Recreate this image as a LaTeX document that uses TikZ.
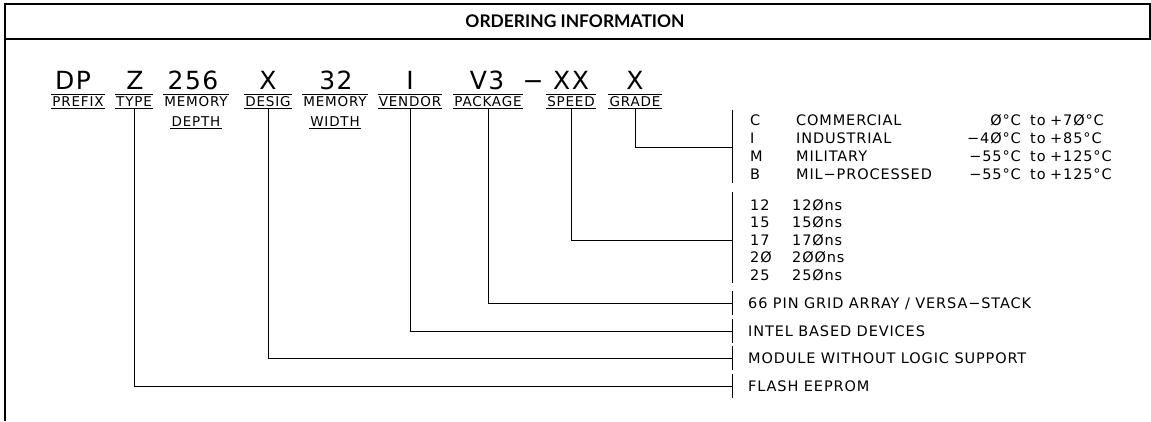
\documentclass[tikz,border=0pt]{standalone}
\usepackage{fontspec}
\newfontfamily\cadfont[LetterSpace=6]{DejaVu Sans}
\newfontfamily\titlefont{Lato}
\usetikzlibrary{positioning}

\tikzset{
  frameline/.style={line width=2pt},
  leader/.style={line width=0.9pt},
  bigchar/.style={anchor=base, inner sep=0pt, text depth=0pt, font=\cadfont\fontsize{25}{27}\selectfont},
  fieldlabel/.style={anchor=base, inner xsep=1pt, inner ysep=2.5pt, text height=8.5pt, text depth=0pt,
    font=\cadfont\fontsize{13.5}{15}\selectfont},
  optiontext/.style={anchor=base west, inner sep=0pt, text depth=0pt, font=\cadfont\fontsize{14.5}{16}\selectfont},
}

\begin{document}
\begin{tikzpicture}[x=1pt,y=-1pt]
\useasboundingbox (0,0) rectangle (1151,421);

% Frame and title bar
\draw[frameline] (5,421) -- (5,4) -- (1151,4);
\draw[frameline] (5,39) -- (1151,39);
\draw[frameline] (1150,4) -- (1150,39);
\node[font=\titlefont\bfseries\fontsize{17.4}{20}\selectfont] (title) at (575,21.5)
  {ORDERING INFORMATION};

% Part number
\node[bigchar] (dp) at (73,89) {DP};
\node[bigchar] (z) at (135,89) {Z};
\node[bigchar] (depth) at (193,89) {256};
\node[bigchar] (desig) at (268,89) {X};
\node[bigchar] (width) at (336,89) {32};
\node[bigchar] (vendor) at (410,89) {I};
\node[bigchar] (package) at (487,89) {V3};
\node[bigchar] (dash) at (533,89) {−};
\node[bigchar] (speed) at (571,89) {XX};
\node[bigchar] (grade) at (635,89) {X};

% Field names
\node[fieldlabel] (prefixlbl) at (78,106) {PREFIX};
\node[fieldlabel] (typelbl) at (134,106) {TYPE};
\node[fieldlabel] (depthlbl) at (196,106) {MEMORY};
\node[fieldlabel] (depthlbl2) at (196,126) {DEPTH};
\node[fieldlabel] (desiglbl) at (268,106) {DESIG};
\node[fieldlabel] (widthlbl) at (335,106) {MEMORY};
\node[fieldlabel] (widthlbl2) at (335,126) {WIDTH};
\node[fieldlabel] (vendorlbl) at (410,106) {VENDOR};
\node[fieldlabel] (packagelbl) at (488,106) {PACKAGE};
\node[fieldlabel] (speedlbl) at (571,106) {SPEED};
\node[fieldlabel] (gradelbl) at (635,106) {GRADE};

% Over- and underlines
\foreach \lbl in {prefixlbl,typelbl,depthlbl,desiglbl,widthlbl,vendorlbl,packagelbl,speedlbl,gradelbl}
  \draw[leader] (\lbl.north west) -- (\lbl.north east);
\foreach \lbl in {prefixlbl,typelbl,depthlbl2,desiglbl,widthlbl2,vendorlbl,packagelbl,speedlbl,gradelbl}
  \draw[leader] (\lbl.south west) -- (\lbl.south east);

% Grade options
\draw[leader] (732,110) -- (732,183);
\coordinate (gradetick) at (732,147);
\node[optiontext] (gc) at (750,125) {C};
\node[optiontext] (gcname) at (796,125) {COMMERCIAL};
\node[optiontext, anchor=base east] (gclow) at (1021,125) {Ø°C};
\node[optiontext] (gcto) at (1030,125) {to};
\node[optiontext] (gchigh) at (1050,125) {+7Ø°C};
\node[optiontext] (gi) at (750,143) {I};
\node[optiontext] (giname) at (796,143) {INDUSTRIAL};
\node[optiontext, anchor=base east] (gilow) at (1021,143) {−4Ø°C};
\node[optiontext] (gito) at (1030,143) {to};
\node[optiontext] (gihigh) at (1050,143) {+85°C};
\node[optiontext] (gm) at (750,161) {M};
\node[optiontext] (gmname) at (796,161) {MILITARY};
\node[optiontext, anchor=base east] (gmlow) at (1021,161) {−55°C};
\node[optiontext] (gmto) at (1030,161) {to};
\node[optiontext] (gmhigh) at (1050,161) {+125°C};
\node[optiontext] (gb) at (750,179) {B};
\node[optiontext] (gbname) at (796,179) {MIL−PROCESSED};
\node[optiontext, anchor=base east] (gblow) at (1021,179) {−55°C};
\node[optiontext] (gbto) at (1030,179) {to};
\node[optiontext] (gbhigh) at (1050,179) {+125°C};

% Speed options
\draw[leader] (732,192) -- (732,283);
\coordinate (speedtick) at (732,240);
\node[optiontext] (s12) at (750,210) {12};
\node[optiontext] (s12ns) at (792,210) {12Øns};
\node[optiontext] (s15) at (750,227.5) {15};
\node[optiontext] (s15ns) at (792,227.5) {15Øns};
\node[optiontext] (s17) at (750,245) {17};
\node[optiontext] (s17ns) at (792,245) {17Øns};
\node[optiontext] (s20) at (750,262.5) {2Ø};
\node[optiontext] (s20ns) at (792,262.5) {2ØØns};
\node[optiontext] (s25) at (750,280) {25};
\node[optiontext] (s25ns) at (792,280) {25Øns};

% Single choices
\coordinate (packagetick) at (732,303);
\coordinate (vendortick) at (732,331);
\coordinate (desigtick) at (732,358);
\coordinate (typetick) at (732,386);
\node[optiontext] (pga) at (748,308) {66 PIN GRID ARRAY / VERSA−STACK};
\node[optiontext] (intel) at (748,336) {INTEL BASED DEVICES};
\node[optiontext] (nologic) at (748,363) {MODULE WITHOUT LOGIC SUPPORT};
\node[optiontext] (flash) at (748,391) {FLASH EEPROM};
\draw[leader] ([yshift=12pt]packagetick) -- ([yshift=-12pt]packagetick);
\draw[leader] ([yshift=12pt]vendortick) -- ([yshift=-12pt]vendortick);
\draw[leader] ([yshift=12pt]desigtick) -- ([yshift=-12pt]desigtick);
\draw[leader] ([yshift=12pt]typetick) -- ([yshift=-12pt]typetick);

% Leaders from field names
\draw[leader] (gradelbl.south) |- (gradetick);
\draw[leader] (speedlbl.south) |- (speedtick);
\draw[leader] (packagelbl.south) |- (packagetick);
\draw[leader] (vendorlbl.south) |- (vendortick);
\draw[leader] (desiglbl.south) |- (desigtick);
\draw[leader] (typelbl.south) |- (typetick);

\end{tikzpicture}
\end{document}
